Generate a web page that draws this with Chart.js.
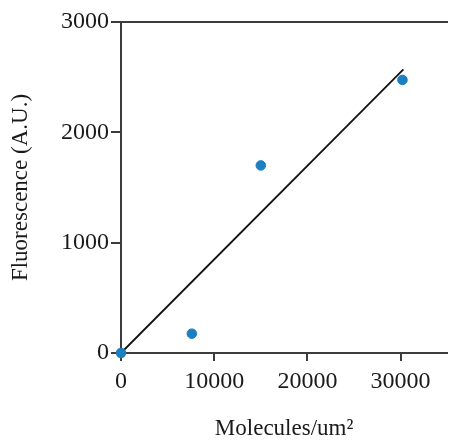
<!DOCTYPE html>
<html>
<head>
<meta charset="utf-8">
<script src="https://cdn.jsdelivr.net/npm/chart.js@4.4.0/dist/chart.umd.min.js"></script>
<style>
  html, body { margin: 0; padding: 0; background: #fff; }
  #wrap { width: 453px; height: 447px; }
</style>
</head>
<body>
<div id="wrap"><canvas id="c"></canvas></div>
<script>
  // ─── DATA ─────────────────────────────────────────────
  const MOLECULES   = [0, 7600, 15000, 30200];      // molecules/um²
  const FLUOR       = [0, 175, 1700, 2475];         // A.U.
  const FIT_X       = [0, 30300];                   // fitted line ends
  const FIT_Y       = [0, 2570];
  const X_TICKS     = [0, 10000, 20000, 30000];
  const Y_TICKS     = [0, 1000, 2000, 3000];

  const AXIS_COLOR = '#3c3c3c';
  const TEXT_COLOR = '#1a1a1a';
  const SERIF = '"Liberation Serif", "DejaVu Serif", serif';

  const pts = MOLECULES.map((x, i) => ({ x: x, y: FLUOR[i] }));
  const fit = FIT_X.map((x, i) => ({ x: x, y: FIT_Y[i] }));

  // only keep the listed ticks (max of 35000 gets no label)
  const keepTicks = list => s => { s.ticks = list.map(v => ({ value: v })); };

  new Chart(document.getElementById('c'), {
    type: 'scatter',
    data: {
      datasets: [
        {
          label: 'Measured',
          data: pts,
          backgroundColor: '#1b7fc0',
          borderColor: '#1b7fc0',
          pointRadius: 4.8,
          pointStyle: 'circle',
          clip: false,
        },
        {
          type: 'line',
          label: 'Fit',
          data: fit,
          borderColor: '#111',
          borderWidth: 1.8,
          pointRadius: 0,
          fill: false,
          clip: false,
        },
      ],
    },
    options: {
      responsive: true,
      maintainAspectRatio: false,
      animation: false,
      layout: { padding: { top: 22, right: 1, bottom: 0, left: 0 } },
      plugins: { legend: { display: false }, tooltip: { enabled: false } },
      scales: {
        x: {
          type: 'linear',
          position: 'bottom',
          min: 0,
          max: 35000,
          afterBuildTicks: keepTicks(X_TICKS),
          afterFit: s => { s.height = 94; s.paddingRight = 0; s.paddingLeft = 0; },
          grid: { drawOnChartArea: false, tickLength: 8, color: AXIS_COLOR, lineWidth: 2 },
          border: { color: AXIS_COLOR, width: 2 },
          ticks: {
            color: TEXT_COLOR, padding: 6, maxRotation: 0,
            font: { family: SERIF, size: 24 },
            callback: v => String(v),
          },
          title: {
            display: true,
            text: 'Molecules/um²',
            color: TEXT_COLOR,
            font: { family: SERIF, size: 23 },
            padding: { top: 0, bottom: 4 },
          },
        },
        xTop: {
          type: 'linear',
          position: 'top',
          min: 0,
          max: 35000,
          afterFit: s => { s.height = 0; s.paddingRight = 0; s.paddingLeft = 0; },
          grid: { drawOnChartArea: false, drawTicks: false },
          border: { color: AXIS_COLOR, width: 2 },
          ticks: { display: false },
        },
        y: {
          type: 'linear',
          min: 0,
          max: 3000,
          afterBuildTicks: keepTicks(Y_TICKS),
          afterFit: s => { s.width = 121; },
          grid: { drawOnChartArea: false, tickLength: 10, color: AXIS_COLOR, lineWidth: 2 },
          border: { color: AXIS_COLOR, width: 2 },
          ticks: {
            color: TEXT_COLOR, padding: 2,
            font: { family: SERIF, size: 24 },
            callback: v => String(v),
          },
          title: {
            display: true,
            text: 'Fluorescence (A.U.)',
            color: TEXT_COLOR,
            font: { family: SERIF, size: 23 },
            padding: { top: 7, bottom: 0 },
          },
        },
      },
    },
  });
</script>
</body>
</html>
